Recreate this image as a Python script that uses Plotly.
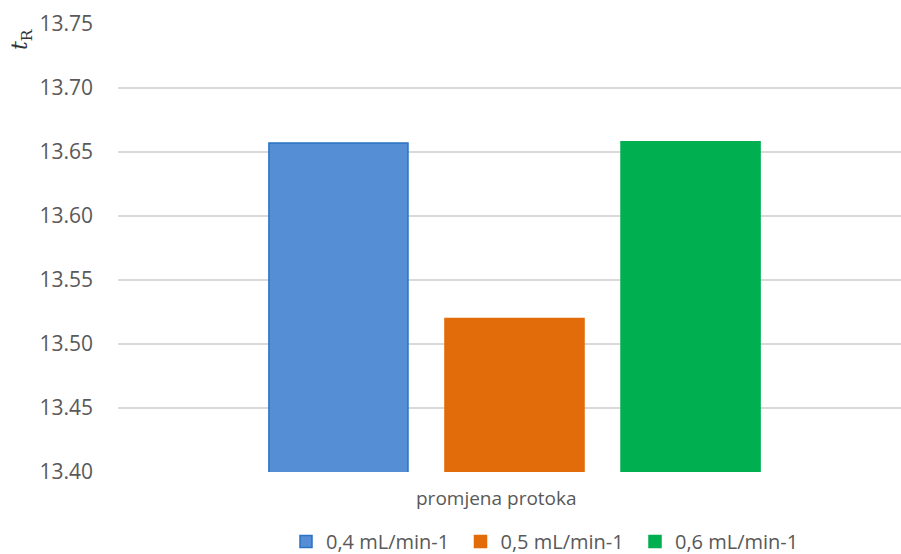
import plotly.graph_objects as go

categories = ["promjena protoka"]
series_names = ["0,4 mL/min-1", "0,5 mL/min-1", "0,6 mL/min-1"]
series_values = [[13.657], [13.520], [13.658]]
fill_colors = ["#558ED5", "#E36C0A", "#00B050"]
line_colors = ["#2A73C2", "#E36C0A", "#00B050"]
y_ticks = [13.40, 13.45, 13.50, 13.55, 13.60, 13.65, 13.70, 13.75]

FONT = "Open Sans"
GRAY = "#595959"

W, H = 901, 554
L, T, B = 118, 24, 82
PW, PH = W - L, H - T - B

fig = go.Figure()
for name, vals, fc, lc in zip(series_names, series_values, fill_colors, line_colors):
    fig.add_trace(go.Bar(
        x=categories, y=vals, name=name,
        marker=dict(color=fc, line=dict(color=lc, width=1.5)),
    ))

fig.update_layout(
    width=W, height=H,
    margin=dict(l=L, r=0, t=T, b=B, pad=0),
    plot_bgcolor="white", paper_bgcolor="white",
    barmode="group", bargap=0.334, bargroupgap=0.21,
    font=dict(family=FONT, size=20, color=GRAY),
    showlegend=True,
    legend=dict(orientation="h", xref="container", yref="container",
                x=286 / W, xanchor="left",
                y=1 - 522 / H, yanchor="top",
                font=dict(family=FONT, size=20, color=GRAY),
                itemwidth=30, entrywidth=129.5, entrywidthmode="pixels",
                traceorder="normal"),
    xaxis=dict(type="category", range=[-0.5, 0.4874], showticklabels=False,
               showgrid=False, zeroline=False, showline=False),
    yaxis=dict(range=[13.40, 13.75], tickvals=y_ticks, tickformat=".2f",
               showgrid=True, gridcolor="#D9D9D9", gridwidth=2,
               zeroline=False, showline=False, ticks="",
               ticklabelstandoff=24,
               tickfont=dict(family=FONT, size=21, color=GRAY)),
    annotations=[
        dict(text="promjena protoka", xref="paper", yref="paper",
             x=(496 - L) / PW, y=-(498 - (T + PH)) / PH, xanchor="center", yanchor="middle",
             showarrow=False, font=dict(family=FONT, size=19, color=GRAY)),
        dict(text="<i>t</i><sub>R</sub>", xref="paper", yref="paper",
             x=-(L - 22) / PW, y=1 - (40 - T) / PH, xanchor="center", yanchor="middle",
             textangle=-90, showarrow=False,
             font=dict(family="DejaVu Serif", size=22, color="#333333")),
    ],
)

fig.write_html(
    "out.html",
    config={"displayModeBar": False},
    post_script="document.body.style.margin='0';document.body.style.overflow='hidden';",
)
